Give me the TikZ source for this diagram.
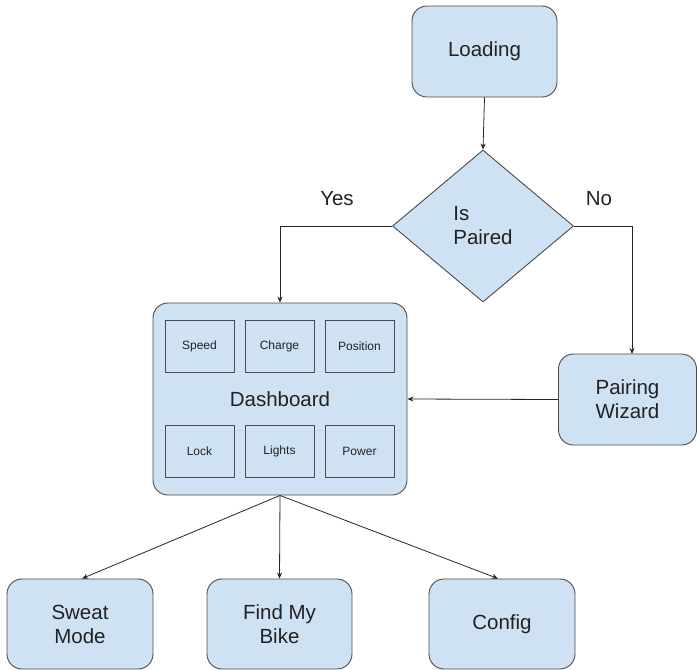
\documentclass[tikz,border=0pt]{standalone}
\usepackage{fontspec}
\setmainfont{Liberation Sans}
\usetikzlibrary{shapes.geometric,arrows.meta}
\definecolor{boxfill}{HTML}{CFE2F3}
\definecolor{boxline}{HTML}{4A4A4A}
\definecolor{txt}{HTML}{222222}
\begin{document}
\begin{tikzpicture}[x=1pt,y=-1pt,
  bigtext/.style={font=\fontsize{20.5}{24}\selectfont, text=txt, align=center},
  stepbox/.style={draw=boxline, fill=boxfill, line width=0.9pt, rounded corners=15pt, inner sep=0pt, bigtext},
  smallbox/.style={draw=boxline, fill=none, line width=0.8pt, inner sep=0pt, minimum width=69pt, minimum height=52pt, font=\fontsize{12}{14}\selectfont, text=txt},
  decision/.style={draw=boxline, fill=boxfill, line width=0.9pt, diamond, inner sep=0pt, minimum width=181pt, minimum height=152pt, bigtext, align=left},
  conn/.style={draw=black!85, line width=0.8pt, -{Stealth[length=6pt,width=5pt]}},
  lbl/.style={bigtext}
]
\useasboundingbox (0,0) rectangle (697,670);

\node[stepbox, minimum width=145pt, minimum height=91pt] (load) at (484.5,51.5) {Loading};
\node[decision] (dia) at (483,226) {Is\\Paired};
\node[stepbox, minimum width=254pt, minimum height=192pt] (dash) at (280,399) {};
\node[bigtext] (dashlbl) at (280,399) {Dashboard};
\node[smallbox] (speed) at (199.5,346) {Speed};
\node[smallbox] (charge) at (279.5,346) {Charge};
\node[smallbox] (pos) at (359.5,346) {Position};
\node[smallbox] (lock) at (199.5,451.5) {Lock};
\node[smallbox] (lights) at (279.5,451.5) {Lights};
\node[smallbox] (power) at (359.5,451.5) {Power};
\node[stepbox, minimum width=138pt, minimum height=91pt] (pw) at (627.5,399.5) {Pairing\\Wizard};
\node[stepbox, minimum width=146pt, minimum height=90pt] (sweat) at (80,624) {Sweat\\Mode};
\node[stepbox, minimum width=145pt, minimum height=90pt] (find) at (279.5,624) {Find My\\Bike};
\node[stepbox, minimum width=146pt, minimum height=90pt] (config) at (502,624) {Config};

\node[lbl] (yes) at (337,199) {Yes};
\node[lbl] (no) at (599,199) {No};

\coordinate (pwin) at (632,354);
\draw[conn] (load.south) -- (dia.north);
\draw[conn] (dia.west) -| (dash.north);
\draw[conn] (dia.east) -| (pwin);
\draw[conn] (pw.west) -- (dash.east);
\draw[conn] (dash.south) -- ([xshift=2pt]sweat.north);
\draw[conn] (dash.south) -- (find.north);
\draw[conn] (dash.south) -- ([xshift=-4pt]config.north);
\end{tikzpicture}
\end{document}
